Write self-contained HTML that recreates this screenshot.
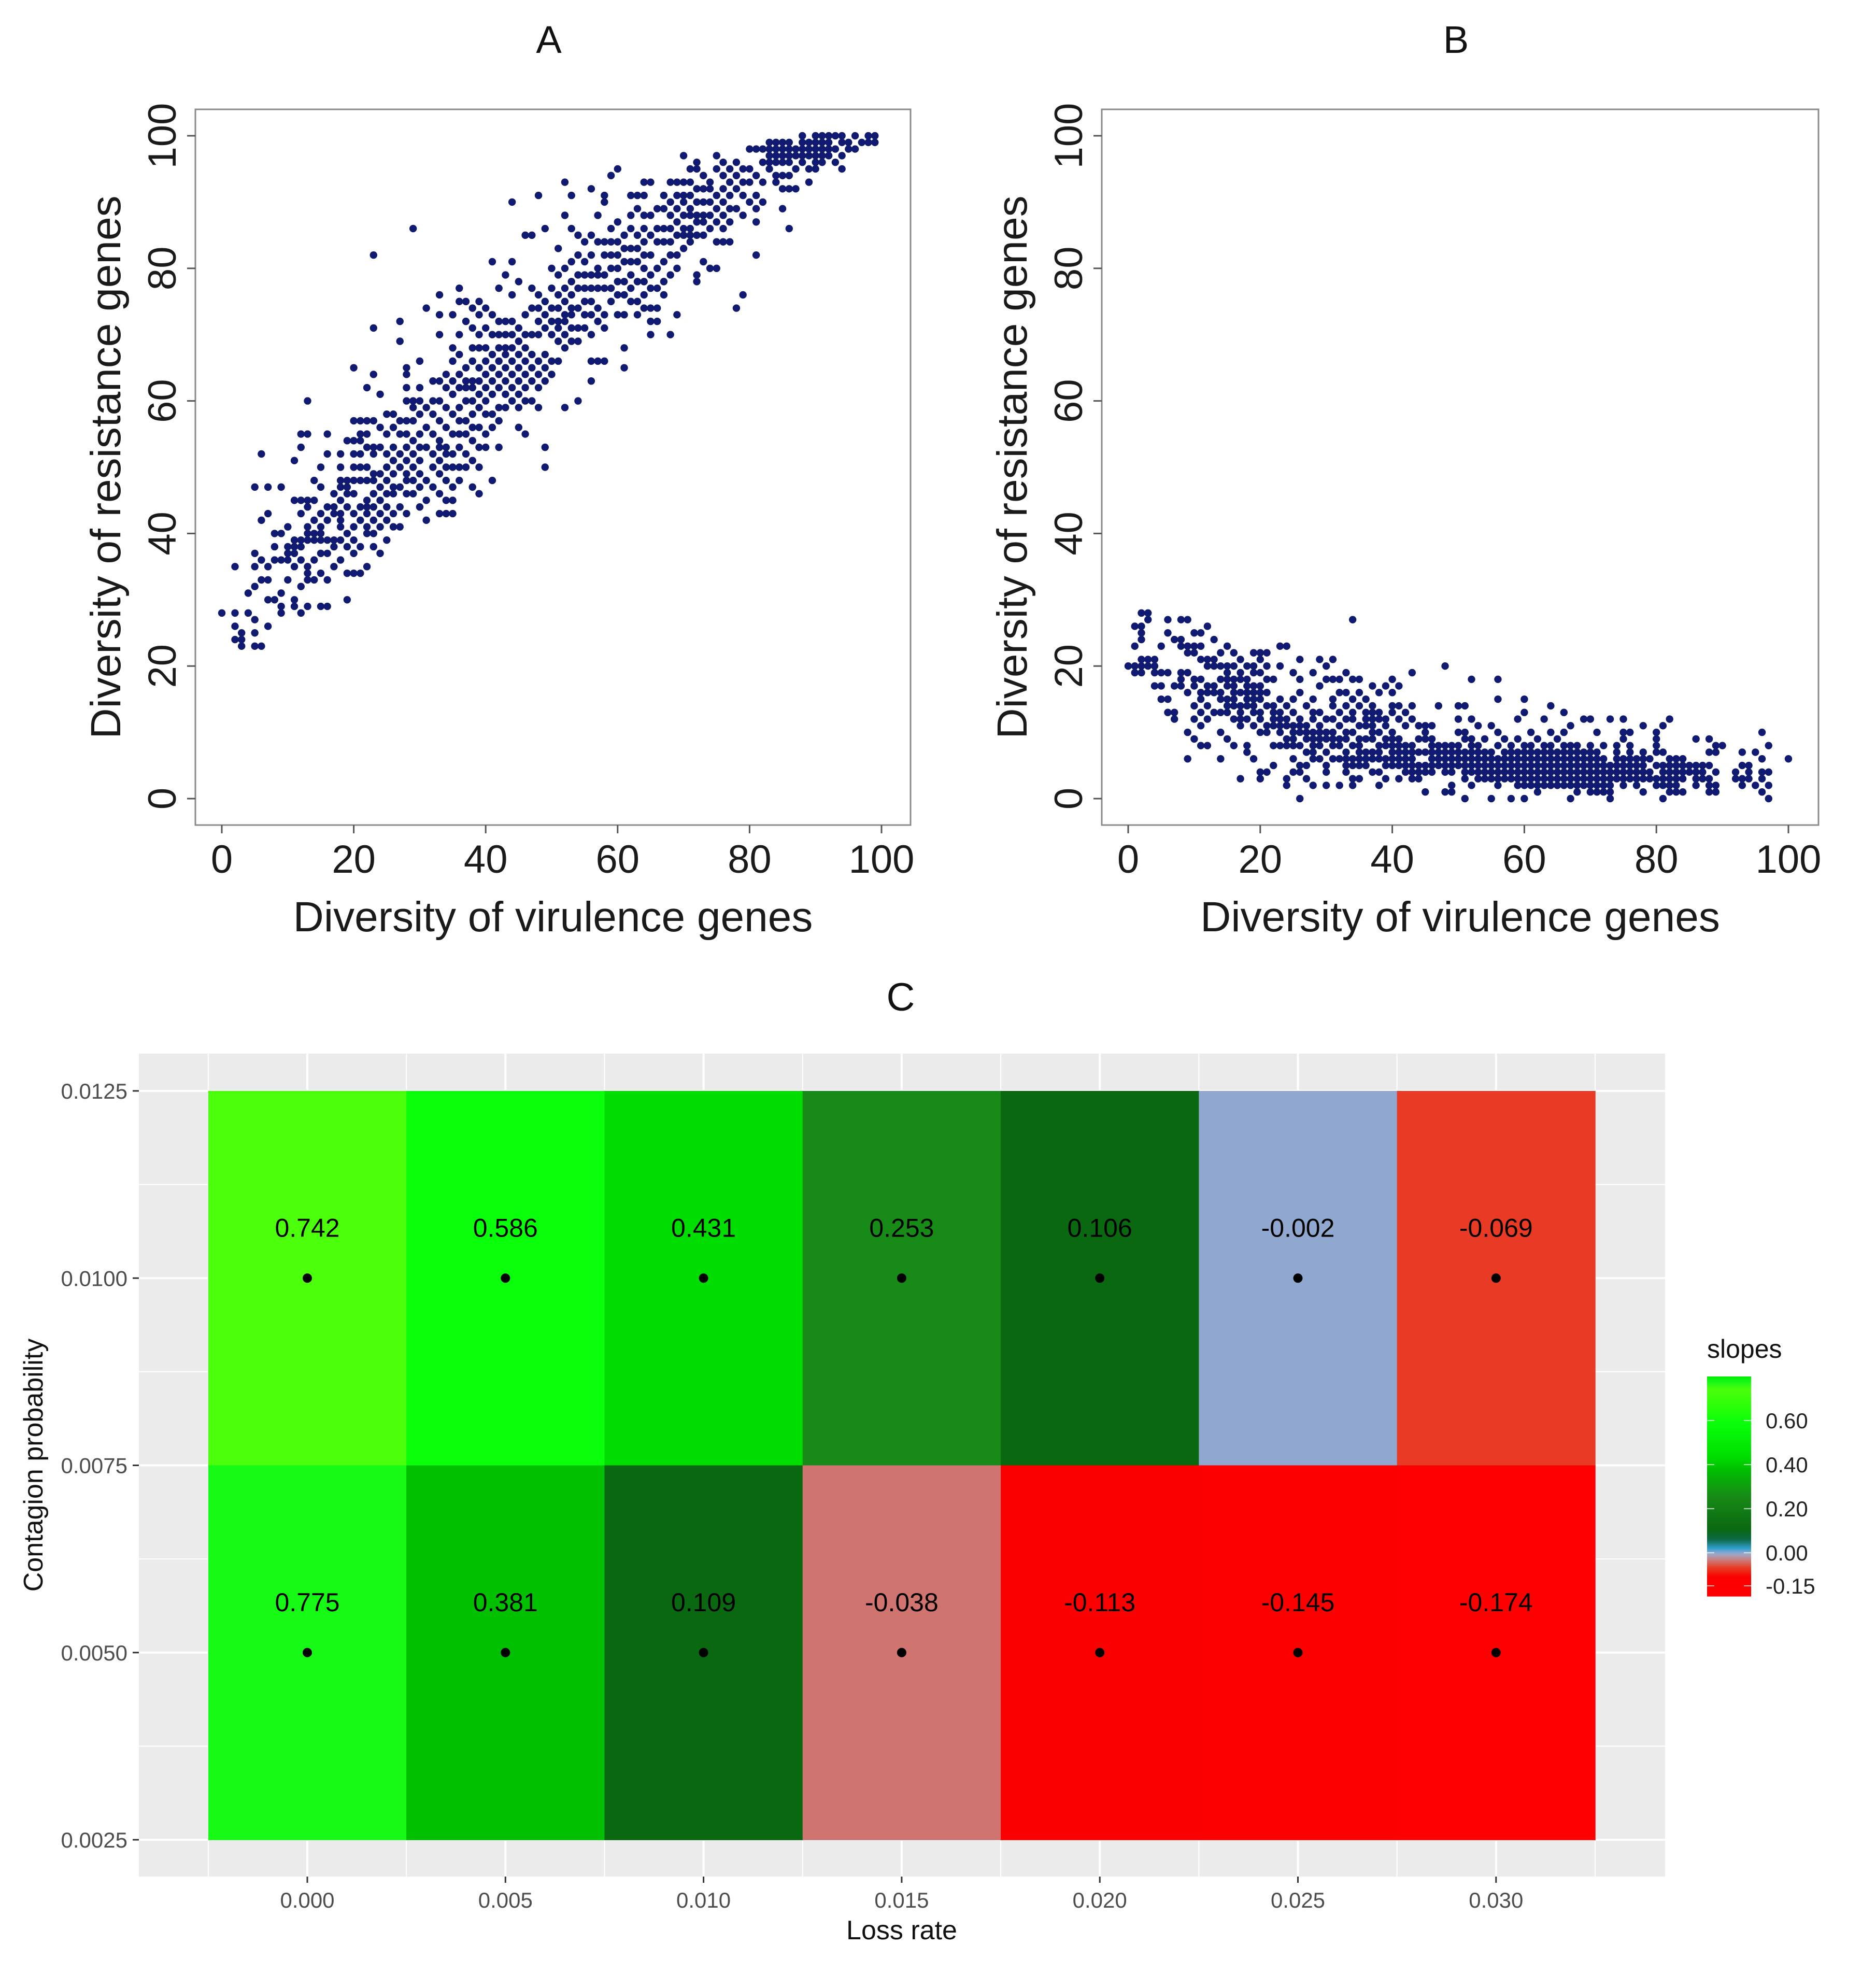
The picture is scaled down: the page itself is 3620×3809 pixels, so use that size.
<!DOCTYPE html>
<html><head><meta charset="utf-8">
<style>
html,body{margin:0;padding:0;background:#fff;}
svg{display:block;font-family:"Liberation Sans",Arial,sans-serif;}
</style></head>
<body>
<svg id="fig" width="3620" height="3809" viewBox="0 0 3620 3809" xmlns="http://www.w3.org/2000/svg"></svg>
<script>
// ---------- Panel A data: "x:y1,y2,..." ----------
const panelAData = [
"0:28","2:24,26,28,35","3:23,24,25","4:28,31","5:23,25,27,32,35,37,47","6:23,33,36,42,52","7:26,30,33,35,43,47","8:30,36,38,40","9:28,29,31,36,40,47","10:33,36,37,38,41",
"11:29,30,35,37,38,39,45,51","12:28,32,36,38,39,43,45,53,55","13:29,33,34,35,39,40,41,44,45,55,60","14:33,36,39,40,42,45,48","15:29,34,37,39,40,41,43,47,50","16:29,33,37,39,42,44,52,55","17:35,38,39,43,44,46","18:36,39,41,42,43,45,47,48,50,52","19:30,34,38,40,44,46,47,48,54","20:34,37,39,41,43,46,48,50,52,54,57,65",
"21:34,38,42,44,48,50,52,54,55,57","22:35,40,41,43,44,45,48,50,53,55,57,62","23:38,40,42,44,46,48,49,52,53,57,64,71,82","24:37,41,43,45,47,49,53,56,61","25:39,42,44,46,48,50,52,55,58","26:41,43,46,47,49,51,53,56,58","27:41,44,47,50,52,55,57,69,72","28:43,46,48,49,51,53,55,57,60,62,64,65","29:46,48,50,52,54,57,59,60,86","30:44,47,49,51,53,55,58,60,62,66",
"31:42,45,48,53,56,59,74","32:47,50,52,55,58,60,63","33:43,46,49,51,53,54,57,60,63,70,73,76","34:43,45,48,50,52,53,56,59,62,64","35:43,45,47,50,52,55,58,61,63,66,68,73","36:48,50,53,55,57,59,62,64,67,70,75,77","37:50,52,55,57,60,62,63,65,72,75","38:47,51,54,56,58,60,62,63,66,68,71,74","39:46,50,53,56,59,61,63,65,68,70,73,75","40:53,55,58,60,62,64,66,68,71,74",
"41:48,56,58,61,63,65,67,70,73,81","42:53,57,59,62,64,66,68,70,72,77","43:59,61,63,65,67,68,70,72,79","44:60,62,64,66,68,70,72,76,81,90","45:56,59,61,63,65,67,69,71,78","46:55,60,62,64,66,68,70,73,85","47:60,63,65,67,70,74,77,85","48:59,62,64,66,70,72,74,76,91","49:50,53,63,65,67,71,73,75,86","50:64,66,70,72,74,77,80",
"51:66,69,71,72,74,76,79,83","52:59,68,70,72,73,75,77,80,88,93","53:69,71,73,74,76,78,81,86,91","54:60,69,71,74,77,79,82,85","55:71,73,75,77,79,81,84","56:63,66,70,73,75,77,79,82,85,92","57:66,72,74,77,79,80,84,88","58:66,71,73,77,79,82,84,90,91","59:75,77,80,82,84,86,94","60:73,76,78,80,82,84,87,95",
"61:65,68,73,76,78,81,83,85","62:75,77,79,81,83,86,88,91","63:73,75,78,81,83,85,89,91","64:74,76,78,80,82,84,86,88,91,93","65:70,72,74,77,79,82,85,88,93","66:72,74,77,80,84,86,89","67:76,78,81,84,86,89,91","68:70,79,82,84,86,88,90,93","69:73,80,82,85,87,89,91,93","70:83,85,86,88,90,91,93,97",
"71:84,85,86,88,89,91,93,95","72:78,79,85,87,88,90,92,95,96","73:81,85,87,88,90,92,94","74:80,86,88,90,92,93","75:80,84,87,89,91,95,97","76:84,86,88,90,92,94,96","77:84,87,89,91,93,95","78:74,89,92,94,96","79:76,88,91,93,95","80:90,93,95,98",
"81:82,87,89,91,94,98","82:90,93,96,98","83:95,96,97,98,99","84:93,94,96,97,98,99","85:89,92,94,96,97,98,99","86:86,92,94,96,97,98,99","87:92,95,97,98","88:96,97,98,99,100","89:93,95,97,98,99","90:95,96,97,98,99,100",
"91:96,97,98,99,100","92:97,98,99,100","93:96,98,100","94:95,97,99,100","95:98,99","96:98,100","97:99","98:99,100","99:99,100"
];
// ---------- Panel B data ----------
const panelBData = [
"0:20","1:19,20,23,26","2:19,20,21,24,25,26,28","3:20,21,27,28","4:17,19,20,21","5:15,17,19,23","6:13,15,19,25,27","7:12,13,17,24","8:17,18,19,23,24,27","9:6,10,16,19,22,23,27","10:9,12,14,17,18,22,23,25",
"11:8,11,13,15,16,18,21,23,25","12:8,12,14,16,17,20,21,26","13:13,16,17,20,21,24","14:6,10,13,15,16,18,20,22","15:9,13,14,15,17,18,19,20,23","16:8,12,14,15,16,17,18,20,22","17:3,11,12,13,14,16,18,19,21","18:7,8,12,14,15,16,17,18,20","19:6,11,13,14,15,16,17,19,20,22","20:3,4,10,12,13,15,16,17,19,21,22",
"21:4,10,11,14,16,18,20,22","22:5,8,11,12,13,14,18","23:8,10,11,12,13,15,20,23","24:2,3,8,9,11,12,14,23","25:4,6,8,9,10,11,13,15,19","26:0,4,5,8,10,11,12,16,18,21","27:3,5,7,9,10,11,14","28:2,6,7,8,9,10,12,13,15,19","29:6,8,9,10,11,13,17,21","30:2,4,5,7,9,10,12,18,20",
"31:6,8,9,10,12,14,15,18,21","32:2,6,8,9,11,13,16,18","33:4,5,6,7,9,10,12,14,16,19","34:2,3,5,6,8,10,12,13,15,18,27","35:3,5,6,7,8,9,11,14,16,18","36:5,6,7,9,11,12,13,15","37:4,6,7,9,10,11,12,13,14,17","38:2,4,6,7,8,10,12,13,16","39:3,5,6,8,9,11,12,17","40:5,6,7,8,9,10,13,14,16,18",
"41:3,5,6,7,8,9,12,14,17","42:4,5,6,7,8,11,13","43:3,4,5,6,7,8,12,14,19","44:3,4,5,7,9,11","45:1,4,5,7,9,10,11","46:4,5,6,7,8,9,11","47:5,6,7,8,14","48:1,4,5,6,7,8,20","49:1,2,4,5,6,7,8","50:5,6,7,8,10,12,14",
"51:0,3,4,5,6,7,9,10,14","52:2,4,5,6,7,8,9,12,18","53:3,4,5,6,7,8,11","54:3,4,5,6,7,9","55:0,3,4,5,6,7,11","56:2,3,4,5,6,8,10,15,18","57:3,4,5,6,7,9","58:0,3,4,5,6,7,8","59:2,3,4,5,6,7,9,12","60:0,2,3,4,5,6,7,8,13,15",
"61:2,3,4,5,6,7,8,10","62:1,2,3,4,5,6,7,9","63:2,3,4,5,6,7,8,12","64:2,3,4,5,6,7,8,10,14","65:2,3,4,5,6,7,9","66:2,3,4,5,6,7,8,10,13","67:0,2,3,4,5,6,7,8,11","68:1,2,3,4,5,6,7,8","69:2,3,4,5,6,7,12","70:1,2,3,4,5,6,7,8,12",
"71:1,2,3,4,5,6,7,10","72:1,2,3,4,5,6,8","73:0,1,2,3,4,5,12","74:3,4,5,6,7,8","75:2,3,4,5,6,9,10,12","76:3,4,5,6,7,8,10","77:2,3,4,5,6","78:1,3,4,5,6,7,11","79:3,4,6","80:2,3,5,7,8,9,10",
"81:0,2,3,4,5,7,11","82:1,2,3,4,5,6,12","83:1,2,3,4,5,6","84:1,3,4,5,6","85:4,5","86:2,3,4,5,9","87:3,4,5","88:1,2,3,5,7,9","89:1,2,4,7,8","90:8",
"92:3,4","93:2,3,5,7","94:3,4,5","95:2,7","96:1,3,4,6,10","97:0,2,4,8","100:6"
];
const scatterTicks = [0,20,40,60,80,100];

// ---------- Panel C data ----------
const lossRates = [0.000,0.005,0.010,0.015,0.020,0.025,0.030];
const lossLabels = ["0.000","0.005","0.010","0.015","0.020","0.025","0.030"];
const contagion = [0.0100,0.0050];
const contagionTicks = [0.0025,0.0050,0.0075,0.0100,0.0125];
const contagionLabels = ["0.0025","0.0050","0.0075","0.0100","0.0125"];
const slopesHigh = [0.742,0.586,0.431,0.253,0.106,-0.002,-0.069];
const slopesLow  = [0.775,0.381,0.109,-0.038,-0.113,-0.145,-0.174];
const legendTicks = [0.60,0.40,0.20,0.00,-0.15];
const legendLabels = ["0.60","0.40","0.20","0.00","-0.15"];

const NS = "http://www.w3.org/2000/svg";
const svg = document.getElementById('fig');
function mk(tag, attrs, parent){
  const e = document.createElementNS(NS, tag);
  for (const k in attrs) e.setAttribute(k, attrs[k]);
  (parent||svg).appendChild(e);
  return e;
}
function txt(s, attrs, parent){ const t = mk('text', attrs, parent); t.textContent = s; return t; }

// ---------- scatter panels ----------
function scatter(data, box, title, key){
  const g = mk('g', {});
  
  
  const xs = v => box.x0 + (box.x100 - box.x0) * v / 100;
  const ys = v => box.y0 + (box.y100 - box.y0) * v / 100;
  const frame = mk('rect', {x:box.l, y:box.t, width:box.r-box.l, height:box.b-box.t, fill:'none', stroke:'#8a8a8a', 'stroke-width':3}, g);
  
  
  const pg = mk('g', {fill:'#0f1a70'}, g);
  
  
  data.forEach(entry => {
    const [xv, ylist] = entry.split(':');
    ylist.split(',').forEach(yv => {
      const c = mk('circle', {cx:xs(+xv), cy:ys(+yv), r:7.2}, pg);
      
      
    });
  });
  scatterTicks.forEach(v => {
    const tx = mk('line', {x1:xs(v), x2:xs(v), y1:box.b, y2:box.b+16, stroke:'#555', 'stroke-width':3}, g);
    
    
    const lx = txt(String(v), {x:xs(v), y:box.b+92, 'font-size':76, 'text-anchor':'middle', fill:'#1a1a1a'}, g);
    
    
    const ty = mk('line', {x1:box.l-16, x2:box.l, y1:ys(v), y2:ys(v), stroke:'#555', 'stroke-width':3}, g);
    
    
    const ly = txt(String(v), {x:0, y:0, 'font-size':76, 'text-anchor':'middle', fill:'#1a1a1a', transform:`translate(${box.l-38},${ys(v)}) rotate(-90)`}, g);
    
    
  });
  const xt = txt('Diversity of virulence genes', {x:(box.l+box.r)/2, y:box.b+205, 'font-size':82, 'text-anchor':'middle', fill:'#1a1a1a'}, g);
  
  
  const yt = txt('Diversity of resistance genes', {x:0, y:0, 'font-size':82, 'text-anchor':'middle', fill:'#1a1a1a', transform:`translate(${box.l-145},${(box.t+box.b)/2}) rotate(-90)`}, g);
  
  
  const tt = txt(title, {x:(box.l+box.r)/2 - 8, y:102, 'font-size':74, 'text-anchor':'middle', fill:'#111'}, g);
  
  
}
scatter(panelAData, {l:377, r:1757, t:211, b:1592, x0:428, x100:1701, y0:1541, y100:262}, 'A', 'a');
scatter(panelBData, {l:2126, r:3509, t:211, b:1592, x0:2177, x100:3451, y0:1541, y100:262}, 'B', 'b');

// ---------- heatmap ----------
const colorStops = [
  [-0.20,[255,0,0]],[-0.11,[250,0,0]],[-0.069,[232,58,36]],[-0.038,[208,116,112]],
  [-0.012,[170,160,185]],[-0.002,[144,168,208]],[0.02,[50,160,205]],[0.06,[12,105,70]],
  [0.107,[10,104,16]],[0.253,[23,138,23]],[0.381,[0,192,0]],[0.431,[0,221,0]],
  [0.586,[10,255,10]],[0.742,[76,255,10]],[0.775,[22,250,22]],[0.80,[0,238,0]]
];
function slopeColor(v){
  if (v <= colorStops[0][0]) return `rgb(${colorStops[0][1]})`;
  for (let i=1;i<colorStops.length;i++){
    if (v <= colorStops[i][0]){
      const [a,ca] = colorStops[i-1], [b,cb] = colorStops[i];
      const t = (v-a)/(b-a);
      return 'rgb(' + ca.map((c,k)=>Math.round(c+(cb[k]-c)*t)).join(',') + ')';
    }
  }
  return `rgb(${colorStops[colorStops.length-1][1]})`;
}
const P = {l:268, r:3213, t:2033, b:3621};
const xScale = v => 593 + (v - 0) / 0.005 * 382.3;
const yScale = v => 2105 + (0.0125 - v) / 0.0025 * 361.25;
const hg = mk('g', {});


const bg = mk('rect', {x:P.l, y:P.t, width:P.r-P.l, height:P.b-P.t, fill:'#ebebeb'}, hg);


for (let v=-0.0025; v<=0.0326; v+=0.0025){
  const major = Math.abs(Math.round(v/0.005)*0.005 - v) < 1e-6;
  const gl = mk('line', {x1:xScale(v), x2:xScale(v), y1:P.t, y2:P.b, stroke:'#fff', 'stroke-width': major?4:2}, hg);
  
  
}
for (let v=0.0025; v<=0.01251; v+=0.00125){
  const major = Math.abs(Math.round(v/0.0025)*0.0025 - v) < 1e-7;
  const gl = mk('line', {x1:P.l, x2:P.r, y1:yScale(v), y2:yScale(v), stroke:'#fff', 'stroke-width': major?4:2}, hg);
  
  
}
const rows = [slopesHigh, slopesLow];
const colW = xScale(0.005) - xScale(0), rowH = yScale(0.0075) - yScale(0.0125);
rows.forEach((row, ri) => {
  row.forEach((val, ci) => {
    const cx = xScale(lossRates[ci]), cy = yScale(contagion[ri]);
    const r = mk('rect', {x:cx-colW/2, y:cy-rowH/2, width:colW+0.8, height:rowH+0.8, fill:slopeColor(val)}, hg);
    
    
  });
});
rows.forEach((row, ri) => {
  row.forEach((val, ci) => {
    const cx = xScale(lossRates[ci]), cy = yScale(contagion[ri]);
    const d = mk('circle', {cx:cx, cy:cy, r:9, fill:'#000'}, hg);
    
    
    const t = txt(val.toFixed(3), {x:cx, y:cy-80, 'font-size':50, 'text-anchor':'middle', fill:'#000'}, hg);
    
    
  });
});
lossRates.forEach((v,i) => {
  const tk = mk('line', {x1:xScale(v), x2:xScale(v), y1:P.b, y2:P.b+12, stroke:'#333', 'stroke-width':3}, hg);
  
  
  const l = txt(lossLabels[i], {x:xScale(v), y:P.b+60, 'font-size':42, 'text-anchor':'middle', fill:'#4d4d4d'}, hg);
  
  
});
contagionTicks.forEach((v,i) => {
  const tk = mk('line', {x1:P.l-12, x2:P.l, y1:yScale(v), y2:yScale(v), stroke:'#333', 'stroke-width':3}, hg);
  
  
  const l = txt(contagionLabels[i], {x:P.l-22, y:yScale(v)+15, 'font-size':42, 'text-anchor':'end', fill:'#4d4d4d'}, hg);
  
  
});
const xtC = txt('Loss rate', {x:1740, y:3742, 'font-size':52, 'text-anchor':'middle', fill:'#111'}, hg);


const ytC = txt('Contagion probability', {x:0, y:0, 'font-size':52, 'text-anchor':'middle', fill:'#111', transform:'translate(82,2827) rotate(-90)'}, hg);


const tC = txt('C', {x:1738, y:1950, 'font-size':76, 'text-anchor':'middle', fill:'#111'}, hg);



// legend
const lg = mk('g', {});


const L = {x:3294, w:85, top:2656, bot:3080, vTop:0.80, vBot:-0.197};
const lyScale = v => L.top + (L.vTop - v) / (L.vTop - L.vBot) * (L.bot - L.top);
const nSlices = 140;
for (let i=0;i<nSlices;i++){
  const v0 = L.vTop - (L.vTop-L.vBot)*i/nSlices;
  const y0 = lyScale(v0), h = (L.bot-L.top)/nSlices;
  const s = mk('rect', {x:L.x, y:y0, width:L.w, height:h+0.6, fill:slopeColor(v0 - (L.vTop-L.vBot)/nSlices/2)}, lg);
  
  
}
legendTicks.forEach((v,i) => {
  const y = lyScale(v);
  mk('line', {x1:L.x, x2:L.x+14, y1:y, y2:y, stroke:'#fff', 'stroke-width':2, 'stroke-opacity':0.7}, lg);
  mk('line', {x1:L.x+L.w-14, x2:L.x+L.w, y1:y, y2:y, stroke:'#fff', 'stroke-width':2, 'stroke-opacity':0.7}, lg);
  const t = txt(legendLabels[i], {x:3407, y:y+15, 'font-size':42, fill:'#222'}, lg);
  
  
});
const lt = txt('slopes', {x:3294, y:2620, 'font-size':50, fill:'#111'}, lg);


</script>
</body></html>
